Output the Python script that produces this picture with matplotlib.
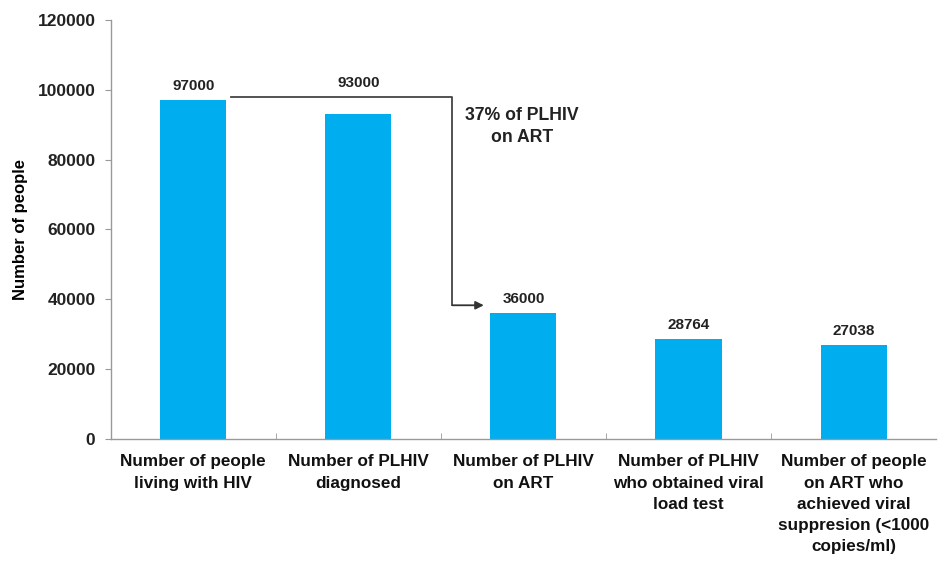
import numpy as np
import matplotlib.pyplot as plt

plt.rcParams['font.family'] = ['Liberation Sans', 'DejaVu Sans']
plt.rcParams['font.weight'] = 'bold'

# Cascade data
categories = [
    "Number of people\nliving with HIV",
    "Number of PLHIV\ndiagnosed",
    "Number of PLHIV\non ART",
    "Number of PLHIV\nwho obtained viral\nload test",
    "Number of people\non ART who\nachieved viral\nsuppresion (<1000\ncopies/ml)",
]
values = [97000, 93000, 36000, 28764, 27038]
value_labels = ["97000", "93000", "36000", "28764", "27038"]
yticks = [0, 20000, 40000, 60000, 80000, 100000, 120000]

# Bracket arrow from diagnosed to on ART
arrow_y_top = 98000
arrow_y_bottom = 38300
arrow_x_start = 0.23
arrow_x_turn = 1.57
arrow_x_end = 1.76

fig = plt.figure(figsize=(9.38, 5.63), dpi=100)
ax = fig.add_axes([0.118, 0.22, 0.88, 0.745])

x = np.arange(len(categories))
ax.bar(x, values, width=0.4, color='#00AEEF', zorder=2)

ax.set_xlim(-0.5, len(categories) - 0.5)
ax.set_ylim(0, 120000)
ax.set_yticks(yticks)
ax.set_yticklabels([str(t) for t in yticks], fontsize=12.5, fontweight='bold', color='#222222')
ax.set_xticks(x)
ax.set_xticklabels(categories, fontsize=12.3, fontweight='bold', color='#111111',
                   linespacing=1.52)
ax.tick_params(axis='x', length=0, pad=11)
ax.tick_params(axis='y', length=4, color='#999999', pad=7)
# minor ticks between categories
ax.set_xticks(np.arange(0.5, len(categories) - 0.5, 1.0), minor=True)
ax.tick_params(axis='x', which='minor', length=4, color='#999999', direction='in')

for s in ['top', 'right']:
    ax.spines[s].set_visible(False)
for s in ['left', 'bottom']:
    ax.spines[s].set_color('#999999')
    ax.spines[s].set_linewidth(1.0)

ax.set_ylabel("Number of people", fontsize=12, fontweight='bold', labelpad=7)

# value labels
for i, (v, lab) in enumerate(zip(values, value_labels)):
    y = v
    if i == 1:
        y = arrow_y_top
    ax.annotate(lab, (i, y), xytext=(0, 5), textcoords='offset points',
                ha='center', va='bottom', fontsize=11, fontweight='bold', color='#222222')

# bracket arrow
ax.plot([arrow_x_start, arrow_x_turn, arrow_x_turn],
        [arrow_y_top, arrow_y_top, arrow_y_bottom],
        color='#444444', lw=1.3, zorder=3)
ax.annotate("", xy=(arrow_x_end, arrow_y_bottom), xytext=(arrow_x_turn, arrow_y_bottom),
            arrowprops=dict(arrowstyle='-|>', color='#333333', lw=1.3,
                            shrinkA=0, shrinkB=0, mutation_scale=12))

ax.text(1.99, 89500, "37% of PLHIV\non ART", ha='center', va='center',
        fontsize=12.7, fontweight='bold', color='#222222', linespacing=1.4)

fig.savefig("out.png", dpi=100)
